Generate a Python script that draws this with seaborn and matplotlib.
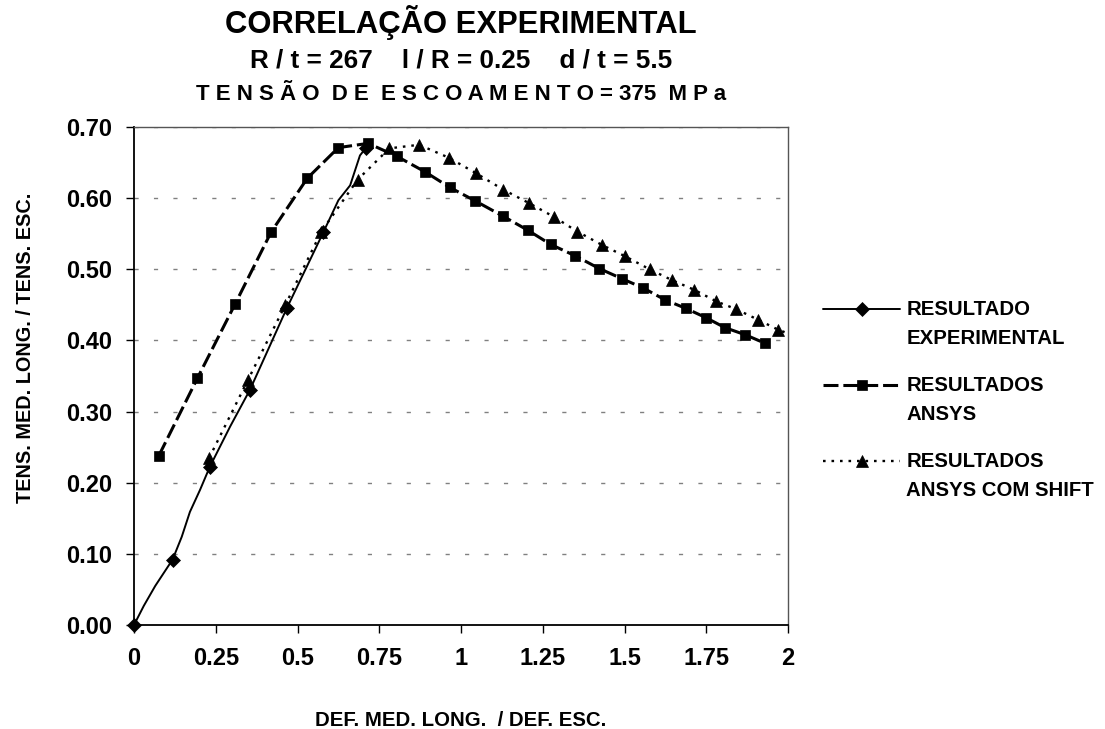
import numpy as np
import matplotlib
matplotlib.use("Agg")
import matplotlib.pyplot as plt
import seaborn as sns
from matplotlib.legend_handler import HandlerLine2D
from matplotlib.ticker import FixedLocator, FuncFormatter

# ---------------- data ----------------
exp_x = [0.000, 0.030, 0.065, 0.118, 0.146, 0.171, 0.202, 0.232, 0.294, 0.355,
         0.467, 0.579, 0.625, 0.661, 0.691, 0.708]
exp_y = [0.000, 0.027, 0.055, 0.092, 0.124, 0.159, 0.190, 0.2225, 0.279, 0.331,
         0.445, 0.552, 0.597, 0.618, 0.660, 0.670]
exp_marker_idx = [0, 3, 7, 9, 10, 11, 15]

ansys_x = [0.076, 0.194, 0.309, 0.419, 0.530, 0.625, 0.716, 0.803, 0.890, 0.966,
           1.044, 1.127, 1.204, 1.274, 1.349, 1.423, 1.491, 1.556, 1.624, 1.688,
           1.749, 1.807, 1.869, 1.930]
ansys_y = [0.238, 0.347, 0.451, 0.552, 0.628, 0.671, 0.677, 0.659, 0.637, 0.615,
           0.596, 0.575, 0.555, 0.535, 0.519, 0.501, 0.487, 0.474, 0.457, 0.445,
           0.432, 0.418, 0.408, 0.396]

shift_x = [0.230, 0.348, 0.463, 0.573, 0.684, 0.781, 0.872, 0.962, 1.046, 1.129,
           1.208, 1.283, 1.356, 1.432, 1.503, 1.577, 1.644, 1.714, 1.780, 1.841,
           1.909, 1.970, 2.023, 2.084]
shift_y = [0.235, 0.344, 0.450, 0.553, 0.626, 0.670, 0.675, 0.657, 0.635, 0.612,
           0.593, 0.574, 0.553, 0.534, 0.518, 0.500, 0.485, 0.471, 0.455, 0.444,
           0.429, 0.415, 0.406, 0.396]

x_ticks = [0, 0.25, 0.5, 0.75, 1, 1.25, 1.5, 1.75, 2]
y_ticks = [0.0, 0.1, 0.2, 0.3, 0.4, 0.5, 0.6, 0.7]

labels = ["RESULTADO\nEXPERIMENTAL", "RESULTADOS\nANSYS", "RESULTADOS\nANSYS COM SHIFT"]
title1 = "CORRELAÇÃO EXPERIMENTAL"
title2 = "R / t = 267    l / R = 0.25    d / t = 5.5"
title3 = "T E N S Ã O  D E  E S C O A M E N T O = 375  M P a"
xlabel = "DEF. MED. LONG.  / DEF. ESC."
ylabel = "TENS. MED. LONG. / TENS. ESC."

# ---------------- style ----------------
sns.set_theme(style="white")
plt.rcParams["font.family"] = ["Liberation Sans", "DejaVu Sans"]
plt.rcParams["font.weight"] = "bold"

fig = plt.figure(figsize=(11.05, 7.29), dpi=100)
fig.patch.set_facecolor("white")
ax = fig.add_axes([0.12127, 0.14266, 0.59186, 0.68313])
ax.set_facecolor("white")

sns.lineplot(x=ansys_x, y=ansys_y, ax=ax, color="black", sort=False,
             linewidth=2.2, linestyle=(0, (4.9, 1.6)),
             marker="s", markersize=7.2, markeredgecolor="black",
             markerfacecolor="black", markeredgewidth=0.5, zorder=3)
sns.lineplot(x=shift_x, y=shift_y, ax=ax, color="black", sort=False,
             linewidth=1.7, linestyle=(0, (1.1, 2.5)),
             marker="^", markersize=8.8, markeredgecolor="black",
             markerfacecolor="black", markeredgewidth=0.5, zorder=3)
sns.lineplot(x=exp_x, y=exp_y, ax=ax, color="black", sort=False,
             linewidth=1.4, linestyle="-", markevery=exp_marker_idx,
             marker="D", markersize=6.7, markeredgecolor="black",
             markerfacecolor="black", markeredgewidth=0.5, zorder=4,
             clip_on=False)

ax.set_xlim(0, 2)
ax.set_ylim(0, 0.7)
ax.xaxis.set_major_locator(FixedLocator(x_ticks))
ax.yaxis.set_major_locator(FixedLocator(y_ticks))
ax.xaxis.set_major_formatter(FuncFormatter(lambda v, p: f"{v:g}"))
ax.yaxis.set_major_formatter(FuncFormatter(lambda v, p: f"{v:.2f}"))

ax.grid(False)
for yv in y_ticks[1:]:
    ax.axhline(yv, color="#808080", linewidth=1.0, linestyle=(0, (3, 11)), zorder=1)

for side in ["left", "bottom"]:
    ax.spines[side].set_color("black")
    ax.spines[side].set_linewidth(1.3)
for side in ["top", "right"]:
    ax.spines[side].set_visible(True)
    ax.spines[side].set_color("#555555")
    ax.spines[side].set_linewidth(1.0)

ax.tick_params(axis="both", which="major", direction="out", length=5.5, width=1.0,
               color="black", labelsize=17, labelcolor="black",
               bottom=True, left=True, top=False, right=False)
ax.tick_params(axis="x", pad=10.5)
ax.tick_params(axis="y", pad=10)
for lab in ax.get_xticklabels() + ax.get_yticklabels():
    lab.set_fontweight("bold")

ax.set_xlabel(xlabel, fontsize=14.7, fontweight="bold", color="black")
ax.set_ylabel(ylabel, fontsize=14.3, fontweight="bold", color="black")
ax.xaxis.set_label_coords(0.5, -0.172)
ax.yaxis.set_label_coords(-0.152, 0.556)

cx = 0.417
fig.text(cx, 1 - 33 / 729, title1, ha="center", va="baseline", fontsize=22.3,
         fontweight="bold", color="black")
fig.text(cx, 1 - 67 / 729, title2, ha="center", va="baseline", fontsize=18.8,
         fontweight="bold", color="black")
fig.text(cx, 1 - 100 / 729, title3, ha="center", va="baseline", fontsize=16,
         fontweight="bold", color="black")

# ---------------- legend ----------------
leg_fs = 14.7
leg_ls = 1.69
handle_shift_pts = 11.2


class FirstLineHandler(HandlerLine2D):
    def __init__(self, shift, **kw):
        super().__init__(**kw)
        self.shift = shift

    def create_artists(self, legend, orig_handle, xdescent, ydescent, width,
                       height, fontsize, trans):
        arts = super().create_artists(legend, orig_handle, xdescent, ydescent,
                                      width, height, fontsize, trans)
        for a in arts:
            a.set_ydata(np.asarray(a.get_ydata(), dtype=float) + self.shift)
        return arts


handles = [ax.lines[2], ax.lines[0], ax.lines[1]]
hmap = {h: FirstLineHandler(handle_shift_pts, numpoints=1) for h in handles}
leg = fig.legend(handles, labels, loc="upper left",
                 bbox_to_anchor=(823 / 1105, 1 - 300 / 729),
                 frameon=False, fontsize=leg_fs, handlelength=77 / (leg_fs * 100 / 72),
                 handletextpad=0.3, labelspacing=1.35, borderpad=0,
                 borderaxespad=0, handler_map=hmap)
for t in leg.get_texts():
    t.set_linespacing(leg_ls)
    t.set_fontweight("bold")
    t.set_color("black")

fig.savefig("out.png", dpi=100, facecolor="white")
